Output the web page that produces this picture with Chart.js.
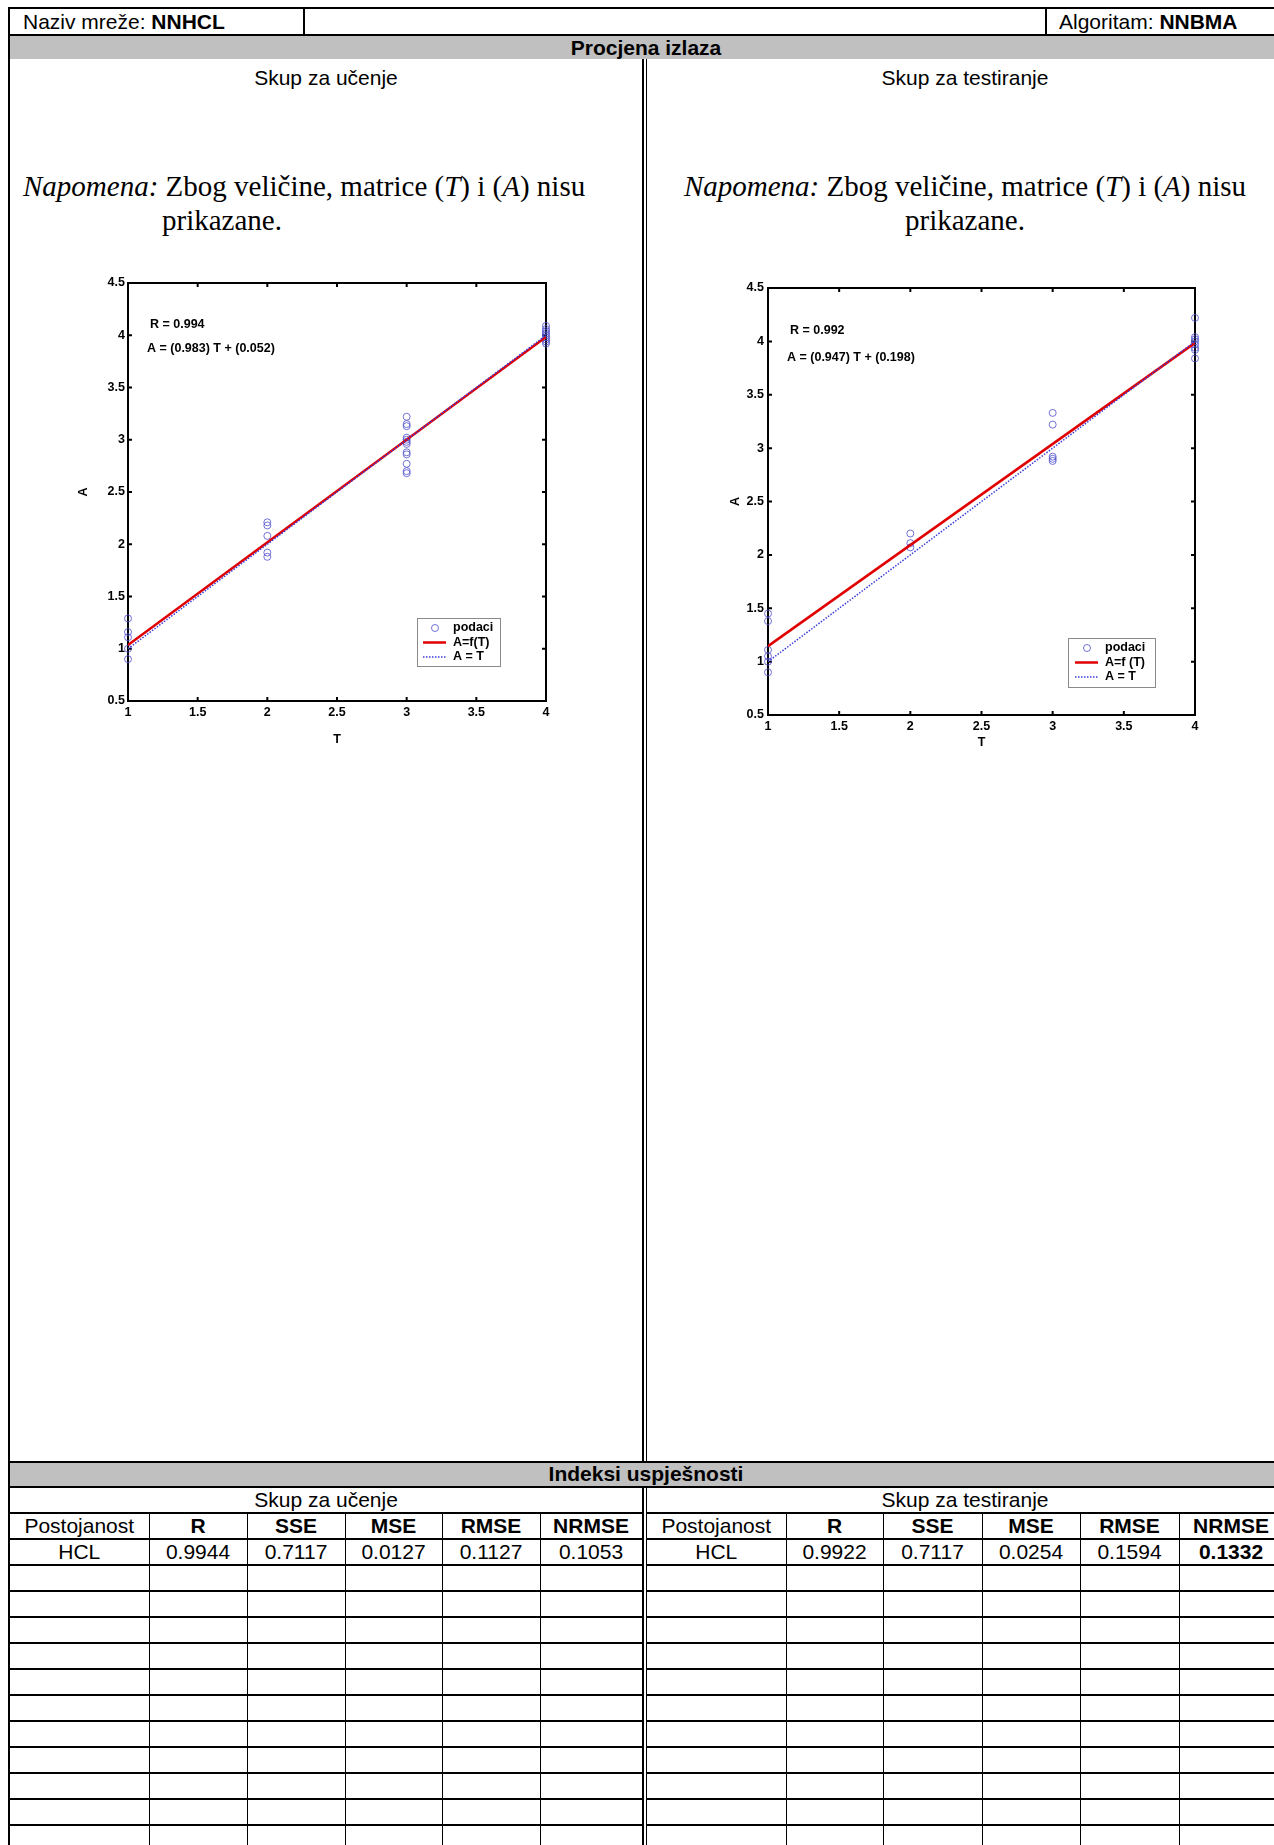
<!DOCTYPE html>
<html lang="hr">
<head>
    <meta charset="UTF-8" />
    <title>Procjena izlaza - NNHCL</title>
    <script src="https://cdn.jsdelivr.net/npm/chart.js"></script>
    <style>
        body {
            margin: 0;
            width: 1274px;
            height: 1845px;
            overflow: hidden;
            background: #fff;
            font-family: Arial, "Liberation Sans", sans-serif;
            position: relative;
        }
        .abs { position: absolute; }
        .hline { position: absolute; background: #000; height: 2px; }
        .vline { position: absolute; background: #000; width: 1.5px; }
        .gray { position: absolute; background: #c0c0c0; left: 10px; width: 1280px; }
        .txt { position: absolute; font-size: 21px; line-height: 26px; white-space: nowrap; }
        .note {
            position: absolute;
            font-family: "Liberation Serif", "Times New Roman", serif;
            font-size: 29px;
            line-height: 34px;
            white-space: nowrap;
        }
        canvas { position: absolute; }
        table.idx {
            position: absolute;
            border-collapse: collapse;
            table-layout: fixed;
            font-size: 21px;
        }
        table.idx td {
            height: 24px;
            padding: 0;
            line-height: 24px;
            text-align: center;
            border-bottom: 2px solid #000;
            border-right: 1px solid #000;
            overflow: hidden;
            white-space: nowrap;
        }
        table.idx td.hd { font-weight: bold; }
        table.idx td.span { border-right: none; }
    </style>
</head>
<body>

    <!-- header -->
    <div class="hline" style="left:9px; top:7px; width:1290px;"></div>
    <div class="abs" style="left:8px; top:7px; width:2px; height:1845px; background:#000;"></div>
    <div class="txt" style="left:23px; top:9px;">Naziv mreže: <b>NNHCL</b></div>
    <div class="vline" style="left:303px; top:8px; height:27px;"></div>
    <div class="vline" style="left:1045px; top:8px; height:27px;"></div>
    <div class="txt" style="left:1059px; top:9px;">Algoritam: <b>NNBMA</b></div>
    <div class="hline" style="left:9px; top:34px; width:1290px;"></div>
    <div class="gray" style="top:36px; height:23px;"></div>
    <div class="txt" style="left:10px; width:1272px; top:35px; text-align:center; font-weight:bold;">Procjena izlaza</div>

    <!-- middle double line -->
    <div class="vline" style="left:642px; top:59px; height:1403px;"></div>
    <div class="vline" style="left:645.5px; top:59px; height:1403px;"></div>
    <div class="vline" style="left:642px; top:1487px; height:400px;"></div>
    <div class="vline" style="left:645.5px; top:1487px; height:400px;"></div>

    <div class="txt" style="left:10px; width:632px; top:65px; text-align:center;">Skup za učenje</div>
    <div class="txt" style="left:647px; width:636px; top:65px; text-align:center;">Skup za testiranje</div>

    <div class="note" style="left:23px; top:169px;"><i>Napomena:</i> Zbog veličine, matrice (<i>T</i>) i (<i>A</i>) nisu<br><span style="padding-left:139px;">prikazane.</span></div>
    <div class="note" style="left:647px; width:636px; top:169px; text-align:center;"><i>Napomena:</i> Zbog veličine, matrice (<i>T</i>) i (<i>A</i>) nisu<br>prikazane.</div>

    <canvas id="learnChart" width="500" height="492" style="left:60px; top:268px;"></canvas>
    <canvas id="testChart" width="510" height="490" style="left:700px; top:270px;"></canvas>

    <!-- performance indices -->
    <div class="hline" style="left:9px; top:1461px; width:1290px;"></div>
    <div class="gray" style="top:1463px; height:23px;"></div>
    <div class="hline" style="left:9px; top:1486px; width:1290px;"></div>
    <div class="txt" style="left:10px; width:1272px; top:1461px; text-align:center; font-weight:bold;">Indeksi uspješnosti</div>

    <table class="idx" id="learnTable" style="left:10px; top:1488px;"></table>
    <table class="idx" id="testTable" style="left:647px; top:1488px;"></table>

    <script>
        // ---- chart data ----
        const learnT = [1, 1, 1, 1, 1,
                        2, 2, 2, 2, 2,
                        3, 3, 3, 3, 3, 3, 3, 3, 3, 3, 3, 3,
                        4, 4, 4, 4, 4, 4, 4, 4, 4];
        const learnA = [1.29, 1.16, 1.11, 1.00, 0.90,
                        2.21, 2.18, 2.08, 1.92, 1.88,
                        3.22, 3.15, 3.13, 3.02, 3.00, 2.98, 2.96, 2.88, 2.86, 2.77, 2.70, 2.68,
                        4.09, 4.06, 4.04, 4.02, 4.00, 3.98, 3.96, 3.94, 3.92];

        const testT = [1, 1, 1, 1, 1, 1,
                       2, 2, 2,
                       3, 3, 3, 3, 3,
                       4, 4, 4, 4, 4, 4, 4, 4];
        const testA = [1.45, 1.38, 1.11, 1.05, 1.00, 0.90,
                       2.20, 2.11, 2.07,
                       3.33, 3.22, 2.92, 2.90, 2.88,
                       4.22, 4.04, 4.02, 4.00, 3.97, 3.94, 3.92, 3.84];

        // fitted line and A = T line end points
        const lineT = [1, 4];
        const learnFitA = [1.035, 3.984];
        const testFitA = [1.145, 3.986];
        const identityA = [1, 4];

        const xTicks = [1, 1.5, 2, 2.5, 3, 3.5, 4];
        const yTicks = [0.5, 1, 1.5, 2, 2.5, 3, 3.5, 4, 4.5];

        const learnNotes = ["R = 0.994", "A = (0.983) T + (0.052)"];
        const testNotes = ["R = 0.992", "A = (0.947) T + (0.198)"];
        const learnLegend = ["podaci", "A=f(T)", "A = T"];
        const testLegend = ["podaci", "A=f (T)", "A = T"];

        // ---- table data ----
        const metricNames = ["R", "SSE", "MSE", "RMSE", "NRMSE"];
        const learnRow = ["0.9944", "0.7117", "0.0127", "0.1127", "0.1053"];
        const testRow = ["0.9922", "0.7117", "0.0254", "0.1594", "0.1332"];
        const rowName = "HCL";
        const emptyRows = 11;

        const FONT = 'Arial, "Liberation Sans", sans-serif';
        const FS = 12.5;
        const pointColor = "rgba(80, 80, 205, 0.8)";
        const fitColor = "#e00000";
        const identColor = "#3c3cdc";

        function pairs(xs, ys) {
            return xs.map((x, i) => ({ x: x, y: ys[i] }));
        }

        // MATLAB-like box: frame, inward ticks, notes and legend inside the axes
        const matlabBox = {
            id: "matlabBox",
            beforeDatasetsDraw(chart) {
                const { ctx, chartArea: a, scales: { x, y } } = chart;
                ctx.save();
                ctx.strokeStyle = "#000";
                ctx.lineWidth = 2;
                ctx.strokeRect(a.left, a.top, a.right - a.left, a.bottom - a.top);
                ctx.beginPath();
                xTicks.forEach(v => {
                    const px = x.getPixelForValue(v);
                    ctx.moveTo(px, a.bottom); ctx.lineTo(px, a.bottom - 4);
                    ctx.moveTo(px, a.top); ctx.lineTo(px, a.top + 4);
                });
                yTicks.forEach(v => {
                    const py = y.getPixelForValue(v);
                    ctx.moveTo(a.left, py); ctx.lineTo(a.left + 4, py);
                    ctx.moveTo(a.right, py); ctx.lineTo(a.right - 4, py);
                });
                ctx.stroke();
                ctx.restore();
            },
            afterDraw(chart, args, o) {
                const { ctx, chartArea: a } = chart;
                ctx.save();
                ctx.fillStyle = "#000";
                ctx.font = "bold " + FS + "px " + FONT;
                ctx.textBaseline = "middle";
                ctx.fillText(o.notes[0], a.left + o.noteX[0], a.top + o.noteY[0]);
                ctx.fillText(o.notes[1], a.left + o.noteX[1], a.top + o.noteY[1]);

                // legend
                const bx = a.right - o.legRight - o.legW;
                const by = a.bottom - o.legBottom - o.legH;
                ctx.fillStyle = "#fff";
                ctx.fillRect(bx, by, o.legW, o.legH);
                ctx.strokeStyle = "#8a8a8a";
                ctx.lineWidth = 1;
                ctx.strokeRect(bx + 0.5, by + 0.5, o.legW, o.legH);

                const rows = [by + 10, by + 24.5, by + 39];
                // marker
                ctx.strokeStyle = pointColor;
                ctx.beginPath();
                ctx.arc(bx + o.mark, rows[0], 3.5, 0, Math.PI * 2);
                ctx.stroke();
                // fit line
                ctx.strokeStyle = fitColor;
                ctx.lineWidth = 2.5;
                ctx.beginPath();
                ctx.moveTo(bx + o.mark - 12, rows[1]); ctx.lineTo(bx + o.mark + 11, rows[1]);
                ctx.stroke();
                // identity line
                ctx.strokeStyle = identColor;
                ctx.lineWidth = 1.5;
                ctx.setLineDash([1.5, 1.5]);
                ctx.beginPath();
                ctx.moveTo(bx + o.mark - 12, rows[2]); ctx.lineTo(bx + o.mark + 11, rows[2]);
                ctx.stroke();
                ctx.setLineDash([]);

                ctx.fillStyle = "#000";
                ctx.font = "bold " + FS + "px " + FONT;
                o.legend.forEach((t, i) => ctx.fillText(t, bx + o.textX, rows[i]));
                ctx.restore();
            }
        };

        function makeChart(id, T, A, fitA, notes, legend, geo) {
            const ctx = document.getElementById(id).getContext("2d");
            return new Chart(ctx, {
                type: "scatter",
                data: {
                    datasets: [
                        {
                            label: legend[2],
                            data: pairs(lineT, identityA),
                            showLine: true,
                            borderColor: identColor,
                            borderWidth: 1.5,
                            borderDash: [1.5, 1.5],
                            pointRadius: 0,
                            order: 1
                        },
                        {
                            label: legend[1],
                            data: pairs(lineT, fitA),
                            showLine: true,
                            borderColor: fitColor,
                            borderWidth: 2.5,
                            pointRadius: 0,
                            order: 2
                        },
                        {
                            label: legend[0],
                            data: pairs(T, A),
                            showLine: false,
                            pointStyle: "circle",
                            pointRadius: 3.5,
                            pointBorderWidth: 1,
                            borderColor: pointColor,
                            backgroundColor: "rgba(0,0,0,0)",
                            clip: false,
                            order: 3
                        }
                    ]
                },
                options: {
                    responsive: false,
                    animation: false,
                    layout: { padding: { top: geo.padTop, right: geo.padRight, left: 0, bottom: 0 } },
                    plugins: {
                        legend: { display: false },
                        tooltip: { enabled: false },
                        matlabBox: {
                            notes: notes,
                            legend: legend,
                            noteX: geo.noteX,
                            noteY: geo.noteY,
                            legW: geo.legW, legH: geo.legH,
                            legRight: geo.legRight, legBottom: geo.legBottom,
                            mark: geo.mark, textX: geo.textX
                        }
                    },
                    scales: {
                        x: {
                            type: "linear",
                            min: 1, max: 4,
                            grid: { display: false, drawTicks: false },
                            border: { display: false },
                            ticks: {
                                stepSize: 0.5,
                                padding: geo.xPad,
                                color: "#000",
                                font: { family: FONT, size: FS, weight: "bold" },
                                callback: v => String(v)
                            },
                            title: {
                                display: true,
                                text: "T",
                                color: "#000",
                                font: { family: FONT, size: FS, weight: "bold" },
                                padding: { top: 0, bottom: geo.xTitlePad }
                            },
                            afterFit: s => { s.height = geo.xHeight; }
                        },
                        y: {
                            type: "linear",
                            min: 0.5, max: 4.5,
                            grid: { display: false, drawTicks: false },
                            border: { display: false },
                            ticks: {
                                stepSize: 0.5,
                                padding: geo.yPad,
                                color: "#000",
                                font: { family: FONT, size: FS, weight: "bold" },
                                callback: v => String(v)
                            },
                            title: {
                                display: true,
                                text: "A",
                                color: "#000",
                                font: { family: FONT, size: FS, weight: "bold" },
                                padding: { top: geo.yTitlePad, bottom: 0 }
                            },
                            afterFit: s => { s.width = geo.yWidth; }
                        }
                    }
                },
                plugins: [matlabBox]
            });
        }

        makeChart("learnChart", learnT, learnA, learnFitA, learnNotes, learnLegend, {
            padTop: 15, padRight: 14, yWidth: 68, xHeight: 59,
            xPad: 4, yPad: 3, xTitlePad: 13, yTitlePad: 16,
            noteX: [22, 19], noteY: [42, 66],
            legW: 83, legH: 48, legRight: 46, legBottom: 35, mark: 18, textX: 36
        });

        makeChart("testChart", testT, testA, testFitA, testNotes, testLegend, {
            padTop: 18, padRight: 15, yWidth: 68, xHeight: 45,
            xPad: 4, yPad: 4, xTitlePad: 10, yTitlePad: 28,
            noteX: [22, 19], noteY: [43, 70],
            legW: 87, legH: 49, legRight: 40, legBottom: 28, mark: 19, textX: 37
        });

        // ---- tables ----
        function buildTable(id, title, values, widths, boldLast) {
            const tbl = document.getElementById(id);
            let html = "<colgroup>" + widths.map(w => '<col style="width:' + w + 'px">').join("") + "</colgroup>";
            html += '<tr><td class="span" colspan="6">' + title + "</td></tr>";
            html += "<tr><td>Postojanost</td>" + metricNames.map(m => '<td class="hd">' + m + "</td>").join("") + "</tr>";
            html += "<tr><td>" + rowName + "</td>" + values.map((v, i) =>
                "<td" + (boldLast && i === values.length - 1 ? ' class="hd"' : "") + ">" + v + "</td>").join("") + "</tr>";
            for (let r = 0; r < emptyRows; r++) {
                html += "<tr>" + widths.map(() => "<td></td>").join("") + "</tr>";
            }
            tbl.innerHTML = html;
            tbl.style.width = widths.reduce((s, w) => s + w, 0) + "px";
        }

        buildTable("learnTable", "Skup za učenje", learnRow, [139, 98, 98, 97, 98, 102], false);
        buildTable("testTable", "Skup za testiranje", testRow, [139, 97, 99, 98, 99, 104], true);
    </script>
</body>
</html>
